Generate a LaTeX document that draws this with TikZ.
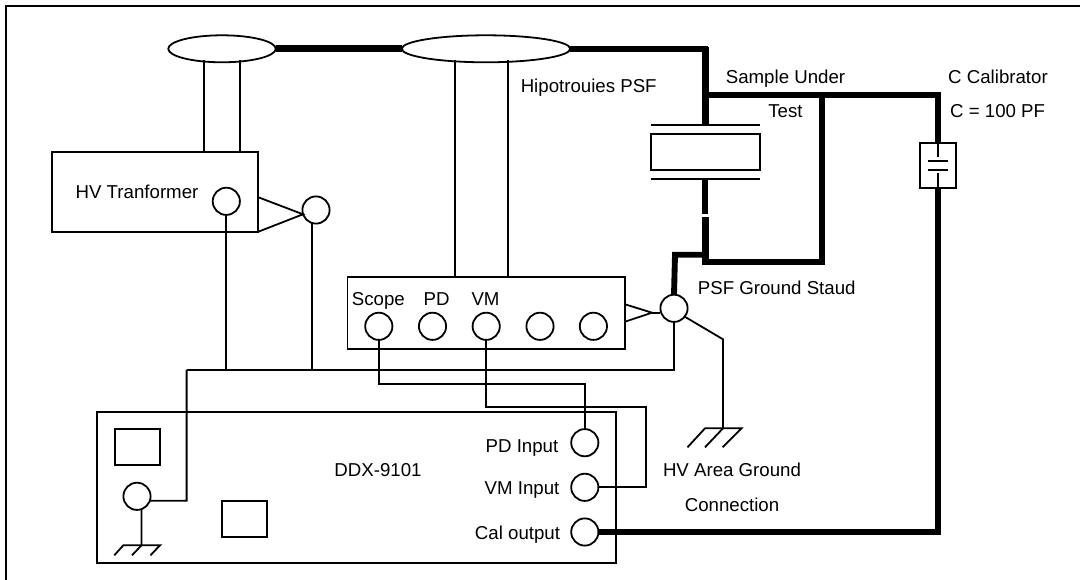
\documentclass[tikz,border=0pt]{standalone}
\usepackage{fontspec}
\setmainfont{Liberation Sans}
\usetikzlibrary{shapes.geometric}
\tikzset{
  ln/.style={line width=1.35pt,line join=miter,draw=black},
  mid/.style={line width=1.7pt,line join=miter,draw=black},
  thk/.style={line width=4.4pt,line join=miter,draw=black},
  fat/.style={line width=5.2pt,line join=miter,draw=black},
  boxn/.style 2 args={rectangle,ln,fill=white,inner sep=0pt,outer sep=0pt,minimum width=#1*0.75pt,minimum height=#2*0.75pt},
  oval/.style 2 args={ellipse,ln,fill=white,inner sep=0pt,outer sep=0pt,minimum width=#1*0.75pt,minimum height=#2*0.75pt},
  port/.style={circle,ln,fill=white,inner sep=0pt,outer sep=0pt,minimum size=20.4pt},
  lab/.style={inner sep=0pt,outer sep=0pt,text=black,font=\fontsize{14pt}{16pt}\selectfont,text height=10pt,text depth=0pt,anchor=center}
}
\begin{document}
\begin{tikzpicture}[x=0.75pt,y=-0.75pt]
\useasboundingbox (0,0) rectangle (1080,580);
% frame, open at right and bottom
\coordinate (frBL) at (6.3,580);
\coordinate (frTL) at (6.3,6.3);
\coordinate (frTR) at (1080,6.3);
\draw[ln] (frBL) -- (frTL) -- (frTR);

% junction coordinates
\coordinate (tubeA1) at (204,60);
\coordinate (tubeA2) at (240,60);
\coordinate (tubeB1) at (454.7,60);
\coordinate (tubeB2) at (508.3,60);
\coordinate (busCorner) at (708,48.8);
\coordinate (smpTop) at (705.3,47);
\coordinate (topJ) at (705.3,95);
\coordinate (retJ) at (821.7,95);
\coordinate (calJ) at (938.1,95);
\coordinate (plTL) at (651,125);
\coordinate (plTC) at (705.3,125);
\coordinate (plTR) at (760,125);
\coordinate (plBL) at (651,178.7);
\coordinate (plBC) at (705.3,178.7);
\coordinate (plBR) at (760,178.7);
\coordinate (brkA) at (705.3,214.3);
\coordinate (brkB) at (705.3,217.3);
\coordinate (studJ) at (705.3,254.7);
\coordinate (studC) at (675,254.7);
\coordinate (lowJ) at (702,262.3);
\coordinate (lowE) at (705.3,262.3);
\coordinate (lowR) at (821.7,262.3);
\coordinate (gndBus) at (674,369.7);
\coordinate (busL) at (186.6,369.7);
\coordinate (busT) at (226.3,369.7);
\coordinate (busU) at (312,369.7);
\coordinate (busD) at (186.6,500.7);
\coordinate (triATop) at (257.6,197);
\coordinate (triABot) at (257.6,232);
\coordinate (triATip) at (303,214.3);
\coordinate (triBTop) at (625,304.3);
\coordinate (triBBot) at (625,321.7);
\coordinate (triBTip) at (652,312.7);
\coordinate (scopeBend) at (378.8,384.3);
\coordinate (scopeEnd) at (584.8,384.3);
\coordinate (vmBend) at (486.2,406.7);
\coordinate (vmEnd) at (646,406.7);
\coordinate (vmIn) at (646,487.3);
\coordinate (calBend) at (938.1,532);
\coordinate (hvA) at (723,339.3);
\coordinate (hvB) at (723,428.3);

% boxes
\node[boxn={205.6}{80.3}] (trans) at (154.8,192.2) {};
\node[boxn={277.5}{72}] (pdbox) at (486.2,312.7) {};
\node[boxn={518.8}{151.6}] (ddx) at (356.4,487.5) {};
\node[boxn={45.1}{36.3}] (rectA) at (137.2,446.9) {};
\node[boxn={45.2}{36}] (rectB) at (244.6,518.7) {};
\node[boxn={109}{36.3}] (sample) at (705.5,151.9) {};
\node[boxn={36.3}{45.6}] (capbox) at (938.1,165.5) {};

% ovals
\node[oval={107.5}{27}] (ovalA) at (222,48.8) {};
\node[oval={168.5}{27}] (ovalB) at (486,48.8) {};

% ports
\node[port] (ptTrans) at (226.3,201.3) {};
\node[port] (ptTri) at (316,210) {};
\node[port] (ptScope) at (378.8,326.3) {};
\node[port] (ptPD) at (432.5,326.3) {};
\node[port] (ptVM) at (486.2,326.3) {};
\node[port] (ptFour) at (540,326.3) {};
\node[port] (ptFive) at (593.4,326.3) {};
\node[port] (ptStud) at (674,308.3) {};
\node[port] (ptPDin) at (584.8,442.7) {};
\node[port] (ptVMin) at (584.8,487.3) {};
\node[port] (ptCal) at (584.8,532) {};
\node[port] (ptGnd) at (137,496.3) {};

% tubes
\draw[ln] (tubeA1) -- (tubeA1 |- trans.north);
\draw[ln] (tubeA2) -- (tubeA2 |- trans.north);
\draw[ln] (tubeB1) -- (tubeB1 |- pdbox.north);
\draw[ln] (tubeB2) -- (tubeB2 |- pdbox.north);

% high-voltage bus
\draw[line width=5.4pt] (ovalA.east) -- (ovalB.west);
\draw[thk] (ovalB.east) -- (busCorner);
\draw[fat] (smpTop) -- (plTC);
\draw[thk] (topJ) -- (calJ) -- (capbox.north);
\draw[thk] (retJ) -- (lowR) -- (lowJ);
\draw[mid] (plTL) -- (plTR);
\draw[ln] (plBL) -- (plBR);

% sample lower lead, with its break
\draw[thk] (plBC) -- (brkA);
\draw[fat] (brkB) -- (lowE);
\draw[thk] (studJ) -- (studC) -- (ptStud.north);

% calibrator
\draw[ln] (capbox.north) -- ++(0,14);
\draw[ln] (capbox.south) -- ++(0,-15);
\coordinate (capTL) at (928,160.7);
\coordinate (capTR) at (947.7,160.7);
\coordinate (capBL) at (928,169.7);
\coordinate (capBR) at (947.7,169.7);
\draw[mid] (capTL) -- (capTR);
\draw[ln] (capBL) -- (capBR);
\draw[thk] (ptCal.east) -- (calBend) -- (capbox.south);

% triangles
\draw[ln] (triATop) -- (triATip) -- (triABot);
\draw[ln] (triBTop) -- (triBTip) -- (triBBot);
\draw[ln] (triBTip) -- (ptStud.west |- triBTip);
\draw[ln] (triATip) -- (ptTri.200);

% ground bus
\draw[mid] (ptStud.south) -- (gndBus) -- (busL);
\draw[ln] (busL) -- (busD) -- (ptGnd.-19);
\draw[ln] (ptTrans.south) -- (busT);
\draw[ln] (ptTri.-107) -- (busU);

% signal lines
\draw[ln] (ptScope.south) -- (scopeBend) -- (scopeEnd) -- (ptPDin.north);
\draw[ln] (ptVM.south) -- (vmBend) -- (vmEnd) -- (vmIn) -- (ptVMin.east);

% HV area ground
\draw[ln] (ptStud.-38) -- (hvA) -- (hvB);
\coordinate (gaL) at (705,428.3);
\coordinate (gaR) at (741.5,428.3);
\coordinate (gaLb) at (687.5,447.3);
\coordinate (gaMb) at (705,447.3);
\coordinate (gaRb) at (722.6,447.3);
\draw[ln] (gaLb) -- (gaL) -- (gaR) -- (gaRb);
\draw[ln] (hvB) -- (gaMb);

% instrument ground
\coordinate (gbT) at (141.5,545.3);
\coordinate (gbL) at (123.3,545.3);
\coordinate (gbR) at (160,545.3);
\coordinate (gbLb) at (114.3,555.3);
\coordinate (gbMb) at (132,555.3);
\coordinate (gbRb) at (150.5,555.3);
\draw[ln] (ptGnd.-71) -- (gbT);
\draw[ln] (gbLb) -- (gbL) -- (gbR) -- (gbRb);
\draw[ln] (gbT) -- (gbMb);

% labels
\node[lab] (tHV) at (137,191.7) {HV Tranformer};
\node[lab] (tHipo) at (588.7,85.7) {Hipotrouies PSF};
\node[lab] (tSample) at (785.5,76.7) {Sample Under};
\node[lab] (tTest) at (785.5,110.7) {Test};
\node[lab] (tCal) at (998,76.7) {C Calibrator};
\node[lab] (tCval) at (997.6,110.7) {C = 100 PF};
\node[lab] (tStud) at (776.7,288) {PSF Ground Staud};
\node[lab] (tScope) at (378.4,299) {Scope};
\node[lab] (tPD) at (436.6,299) {PD};
\node[lab] (tVM) at (485.5,299) {VM};
\node[lab] (tDDX) at (378,470) {DDX-9101};
\node[lab] (tPDin) at (522,445.7) {PD Input};
\node[lab] (tVMin) at (522,488) {VM Input};
\node[lab] (tCalo) at (517.5,533) {Cal output};
\node[lab] (tArea) at (732,470) {HV Area Ground};
\node[lab] (tConn) at (732,505) {Connection};
\end{tikzpicture}
\end{document}
